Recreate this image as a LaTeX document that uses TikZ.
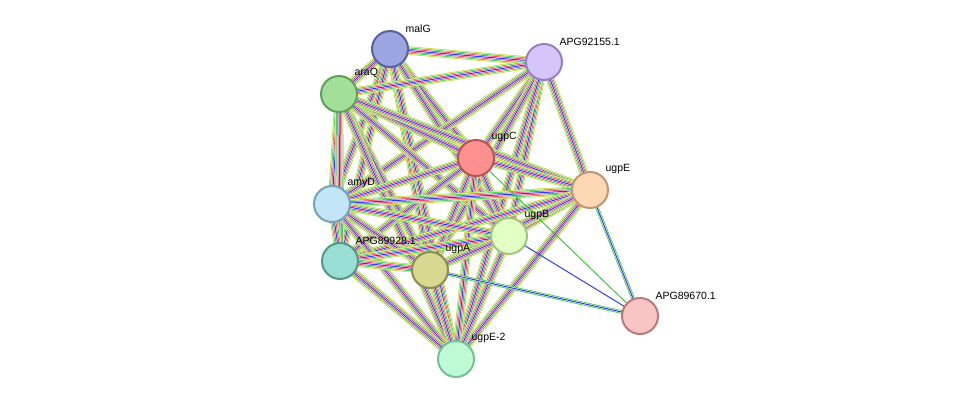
\documentclass[tikz,border=0pt]{standalone}
\usepackage{fontspec}
\setmainfont{Liberation Sans}
\usetikzlibrary{backgrounds}
\definecolor{ylw}{HTML}{C8D43A}
\definecolor{grn}{HTML}{3DC83D}
\definecolor{rd}{HTML}{E8305A}
\definecolor{blu}{HTML}{3040E8}
\tikzset{
  prot/.style={circle, minimum size=36pt, inner sep=0pt, line width=2pt, fill=c#1, draw=b#1},
  lbl/.style={anchor=south west, inner sep=0pt, font=\fontsize{10.5pt}{11pt}\selectfont},
  full/.style={draw=blu, line width=1pt,
    preaction={draw=ylw, line width=8.5pt},
    preaction={draw=white, line width=7pt},
    preaction={draw=grn, line width=6pt},
    preaction={draw=white, line width=4.5pt},
    preaction={draw=rd, line width=3.5pt},
    preaction={draw=white, line width=2pt}},
  thin/.style={draw=blu, line width=1pt,
    preaction={draw=grn, line width=3.5pt},
    preaction={draw=white, line width=2pt}}
}
\definecolor{cmalG}{HTML}{9BA6E0}\definecolor{bmalG}{HTML}{5862A0}
\definecolor{cAPGb}{HTML}{D4C4F8}\definecolor{bAPGb}{HTML}{9680C4}
\definecolor{caraQ}{HTML}{A2E09A}\definecolor{baraQ}{HTML}{60A05A}
\definecolor{cugpC}{HTML}{FF9090}\definecolor{bugpC}{HTML}{B85454}
\definecolor{cugpE}{HTML}{FCD9B4}\definecolor{bugpE}{HTML}{C09670}
\definecolor{camyD}{HTML}{C2E6F8}\definecolor{bamyD}{HTML}{78A0B8}
\definecolor{cugpB}{HTML}{E2FFC4}\definecolor{bugpB}{HTML}{A0C480}
\definecolor{cAPGa}{HTML}{98DED4}\definecolor{bAPGa}{HTML}{54988C}
\definecolor{cugpA}{HTML}{D9D890}\definecolor{bugpA}{HTML}{8C8C50}
\definecolor{cAPGc}{HTML}{F8C4C4}\definecolor{bAPGc}{HTML}{B87C7C}
\definecolor{cugpEb}{HTML}{BDFBD4}\definecolor{bugpEb}{HTML}{78BE94}
\begin{document}
\begin{tikzpicture}[x=1pt, y=-1pt]
    \useasboundingbox (0,0) rectangle (976,405);

    % proteins
    \foreach \n/\x/\y in {malG/390/49, APGb/544/62, araQ/339/94, ugpC/476/158, ugpE/590/190, amyD/332/204,
        ugpB/509/236, APGa/340/261, ugpA/430/270, APGc/640/316, ugpEb/456/359}
        \node[prot=\n] (\n) at (\x,\y) {};

    \foreach \n/\t in {malG/malG, APGb/APG92155.1, araQ/araQ, ugpC/ugpC, ugpE/ugpE, amyD/amyD,
        ugpB/ugpB, APGa/APG89928.1, ugpA/ugpA, APGc/APG89670.1, ugpEb/ugpE-2}
        \node[lbl] at ([shift={(2,-3)}]\n.north east) {\t};

    % edges
    \begin{pgfonlayer}{background}
    \foreach \a/\b in {malG/APGb, malG/araQ, malG/ugpC, malG/amyD, malG/APGa, malG/ugpA, malG/ugpB, malG/ugpEb,
        APGb/araQ, APGb/ugpC, APGb/ugpE, APGb/amyD, APGb/ugpB, APGb/ugpA, APGb/ugpEb,
        araQ/ugpC, araQ/amyD, araQ/APGa, araQ/ugpA, araQ/ugpB, araQ/ugpEb, araQ/ugpE,
        ugpC/ugpE, ugpC/amyD, ugpC/ugpB, ugpC/APGa, ugpC/ugpA, ugpC/ugpEb,
        ugpE/amyD, ugpE/ugpB, ugpE/APGa, ugpE/ugpA, ugpE/ugpEb,
        amyD/ugpB, amyD/APGa, amyD/ugpA, amyD/ugpEb,
        ugpB/APGa, ugpB/ugpA, ugpB/ugpEb, APGa/ugpA, APGa/ugpEb, ugpA/ugpEb}
        \path[full] (\a.center) -- (\b.center);

    \draw[grn, line width=1pt] (ugpC.center) -- (APGc.center);
    \path[thin] (ugpE.center) -- (APGc.center);
    \draw[blu, line width=1pt] (ugpB.center) -- (APGc.center);
    \path[thin] (ugpA.center) -- (APGc.center);
    \end{pgfonlayer}
\end{tikzpicture}
\end{document}
